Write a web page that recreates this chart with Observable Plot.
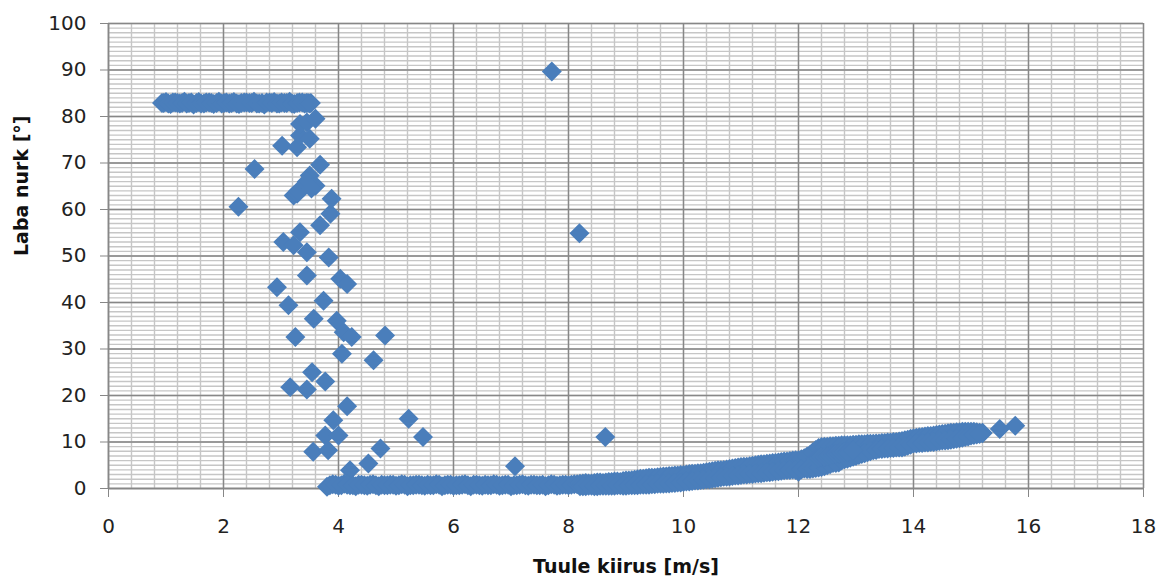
<!DOCTYPE html>
<html>
<head>
<meta charset="utf-8">
<script src="https://cdn.jsdelivr.net/npm/d3@7"></script>
<script src="https://cdn.jsdelivr.net/npm/@observablehq/plot@0.6"></script>
<style>
  html, body { margin: 0; padding: 0; background: #fff; }
</style>
</head>
<body>
<div id="chart"></div>
<script>
// ---- Data ----
const xTicks = [0, 2, 4, 6, 8, 10, 12, 14, 16, 18];
const yTicks = [0, 10, 20, 30, 40, 50, 60, 70, 80, 90, 100];
const xTitle = "Tuule kiirus [m/s]";
const yTitle = "Laba nurk [°]";

// band at ~83° (low wind)
const topBandX = [0.93,1.0,1.08,1.16,1.24,1.32,1.40,1.48,1.57,1.66,1.75,1.83,1.92,2.01,2.10,2.18,2.27,2.36,2.45,2.53,2.62,2.71,2.80,2.88,2.97,3.06,3.15,3.23,3.32,3.41,3.47,3.52];
const topBandY = [82.9,83.1,82.7,83.0,82.8,83.2,82.9,82.6,83.1,82.8,83.0,82.7,83.2,82.9,82.8,83.1,82.7,83.0,82.9,83.2,82.8,82.6,83.0,83.1,82.8,82.9,83.2,82.7,83.0,82.8,82.9,82.9];
const topBand2X = [0.96,1.04,1.12,1.20,1.28,1.36,1.44,1.53,1.61,1.70,1.79,1.88,1.97,2.05,2.14,2.23,2.31,2.40,2.49,2.58,2.67,2.75,2.84,2.93,3.01,3.10,3.19,3.28,3.37,3.44,3.50];
const topBand2Y = [82.9,82.8,83.0,82.9,82.9,82.8,83.0,82.9,82.8,83.0,82.9,82.9,82.8,83.0,82.9,82.8,82.9,83.0,82.9,82.8,82.9,83.0,82.9,82.8,83.0,82.9,82.8,82.9,83.0,82.9,82.8];

// scattered transition points
const scatterX = [2.26,2.54,2.93,3.02,3.04,3.13,3.16,3.22,3.22,3.25,3.28,3.28,3.33,3.33,3.33,3.39,3.45,3.45,3.45,3.45,3.50,3.50,3.54,3.56,3.57,3.60,3.60,3.68,3.68,3.74,3.77,3.77,3.82,3.83,3.86,3.88,3.91,3.97,4.00,4.03,4.06,4.09,4.15,4.15,4.20,4.23,4.52,4.61,4.73,4.81,5.22,5.47,7.07,7.71,8.19,8.64,15.50,15.77,3.45,3.30,3.53];
const scatterY = [60.6,68.7,43.3,73.7,53.0,39.4,21.8,63.0,52.3,32.6,73.4,63.4,75.9,78.4,55.1,64.8,78.7,50.8,45.8,21.3,75.2,67.3,25.0,7.9,36.5,79.5,65.1,69.6,56.6,40.4,23.0,11.4,8.2,49.7,59.1,62.3,14.7,36.1,11.4,45.1,29.0,33.6,44.0,17.7,3.9,32.6,5.4,27.6,8.6,32.9,15.0,11.1,4.8,89.7,54.9,11.1,12.8,13.5,66.0,64.0,64.5];

// flat band near 0°
const flatBandX = [3.80,3.90,4.00,4.10,4.20,4.30,4.40,4.50,4.60,4.70,4.80,4.90,5.00,5.10,5.20,5.30,5.40,5.50,5.60,5.70,5.80,5.90,6.00,6.10,6.20,6.30,6.40,6.50,6.60,6.70,6.80,6.90,7.00,7.10,7.20,7.30,7.40,7.50,7.60,7.70,7.80,7.90,8.00,8.10];
const flatBandY = [0.4,0.9,0.6,1.0,0.7,0.5,0.8,0.6,0.9,0.5,0.7,0.8,0.6,0.9,0.5,0.7,0.8,0.6,0.7,0.9,0.5,0.8,0.6,0.7,0.9,0.5,0.8,0.6,0.7,0.9,0.6,0.8,0.5,0.7,0.9,0.6,0.8,0.7,0.5,0.9,0.6,0.8,0.7,0.9];
const flatBand2X = [3.85,3.95,4.05,4.15,4.25,4.35,4.45,4.55,4.65,4.75,4.85,4.95,5.05,5.15,5.25,5.35,5.45,5.55,5.65,5.75,5.85,5.95,6.05,6.15,6.25,6.35,6.45,6.55,6.65,6.75,6.85,6.95,7.05,7.15,7.25,7.35,7.45,7.55,7.65,7.75,7.85,7.95,8.05,8.15];
const flatBand2Y = [0.7,0.8,0.7,0.8,0.7,0.8,0.7,0.8,0.7,0.8,0.7,0.8,0.7,0.8,0.7,0.8,0.7,0.8,0.7,0.8,0.7,0.8,0.7,0.8,0.7,0.8,0.7,0.8,0.7,0.8,0.7,0.8,0.7,0.8,0.7,0.8,0.7,0.8,0.7,0.8,0.7,0.8,0.8,0.9];

// rising band (upper and lower edge of the cloud)
const riseX = [8.2,8.3,8.4,8.5,8.6,8.7,8.8,8.9,9.0,9.1,9.2,9.3,9.4,9.5,9.6,9.7,9.8,9.9,10.0,10.1,10.2,10.3,10.4,10.5,10.6,10.7,10.8,10.9,11.0,11.1,11.2,11.3,11.4,11.5,11.6,11.7,11.8,11.9,12.0,12.1,12.2,12.3,12.4,12.5,12.6,12.7,12.8,12.9,13.0,13.1,13.2,13.3,13.4,13.5,13.6,13.7,13.8,13.9,14.0,14.1,14.2,14.3,14.4,14.5,14.6,14.7,14.8,14.9,15.0,15.1,15.2];
const riseUpper = [1.0,1.2,1.1,1.3,1.2,1.4,1.5,1.4,1.7,1.8,2.0,2.1,2.3,2.3,2.5,2.6,2.7,2.8,2.9,3.1,3.2,3.3,3.5,3.7,3.9,4.0,4.2,4.4,4.6,4.7,4.9,5.1,5.2,5.4,5.5,5.7,5.8,6.0,6.1,6.5,7.2,8.3,8.9,9.0,9.1,9.2,9.3,9.3,9.4,9.5,9.6,9.6,9.7,9.8,9.9,10.0,10.2,10.5,10.8,11.0,11.2,11.3,11.5,11.7,11.9,12.0,12.1,12.2,12.2,12.1,12.0];
const riseLower = [0.5,0.5,0.6,0.5,0.6,0.6,0.6,0.7,0.6,0.7,0.7,0.8,0.8,0.9,1.0,1.1,1.2,1.3,1.4,1.5,1.7,1.8,2.0,2.1,2.3,2.5,2.6,2.8,2.9,3.0,3.1,3.3,3.4,3.5,3.7,3.8,4.0,4.1,3.6,4.3,4.2,4.4,4.6,5.0,5.5,5.6,6.3,6.6,7.0,7.4,7.8,8.2,8.5,8.6,8.7,8.8,8.8,9.2,9.7,9.8,9.9,10.0,10.1,10.3,10.4,10.6,10.8,11.1,11.4,11.6,11.9];
const rise2X = [8.25,8.35,8.45,8.55,8.65,8.75,8.85,8.95,9.05,9.15,9.25,9.35,9.45,9.55,9.65,9.75,9.85,9.95,10.05,10.15,10.25,10.35,10.45,10.55,10.65,10.75,10.85,10.95,11.05,11.15,11.25,11.35,11.45,11.55,11.65,11.75,11.85,11.95,12.05,12.15,12.25,12.35,12.45,12.55,12.65,12.75,12.85,12.95,13.05,13.15,13.25,13.35,13.45,13.55,13.65,13.75,13.85,13.95,14.05,14.15,14.25,14.35,14.45,14.55,14.65,14.75,14.85,14.95,15.05,15.15];
const rise2Upper = [1.1,1.1,1.2,1.3,1.3,1.4,1.5,1.6,1.7,1.9,2.1,2.2,2.3,2.4,2.6,2.7,2.8,2.9,3.0,3.2,3.3,3.4,3.6,3.8,3.9,4.1,4.3,4.5,4.7,4.8,5.0,5.2,5.3,5.5,5.6,5.8,5.9,6.1,6.3,6.9,7.8,8.7,9.0,9.1,9.2,9.3,9.3,9.4,9.5,9.5,9.6,9.7,9.8,9.9,10.0,10.1,10.4,10.7,10.9,11.1,11.3,11.4,11.6,11.8,12.0,12.1,12.2,12.2,12.2,12.0];
const rise2Lower = [0.5,0.6,0.5,0.6,0.6,0.6,0.7,0.6,0.7,0.7,0.8,0.8,0.9,1.0,1.0,1.1,1.2,1.3,1.5,1.6,1.7,1.9,2.0,2.2,2.4,2.5,2.7,2.8,3.0,3.1,3.2,3.3,3.5,3.6,3.7,3.9,4.0,4.0,4.1,4.2,4.3,4.5,4.8,5.2,5.5,6.0,6.4,6.8,7.2,7.6,8.0,8.3,8.5,8.6,8.7,8.8,9.0,9.4,9.7,9.8,9.9,10.0,10.2,10.3,10.5,10.7,10.9,11.2,11.5,11.7];

// middle of the thick part
const midX = [12.3,12.35,12.4,12.45,12.5,12.55,12.6,12.65,12.7,12.75,12.8,12.85,12.9,12.95];
const midY = [6.4,6.5,6.7,6.8,7.0,7.1,7.3,7.4,7.5,7.7,7.8,7.9,8.0,8.1];

// ---- build point table ----
const pts = [];
const addPairs = (xs, ys) => xs.forEach((x, i) => pts.push({x, y: ys[i]}));
addPairs(topBandX, topBandY);
addPairs(topBand2X, topBand2Y);
addPairs(scatterX, scatterY);
addPairs(flatBandX, flatBandY);
addPairs(flatBand2X, flatBand2Y);
addPairs(riseX, riseUpper);
addPairs(riseX, riseLower);
addPairs(rise2X, rise2Upper);
addPairs(rise2X, rise2Lower);
addPairs(midX, midY);

const minorX = d3.range(0, 46).map(i => i * 0.4);
const minorY = d3.range(0, 101);

const major = "#878787";
const minor = "#c6c6c6";

const chart = Plot.plot({
  width: 1162,
  height: 578,
  marginTop: 23,
  marginBottom: 90,
  marginLeft: 108,
  marginRight: 19,
  x: {domain: [0, 18]},
  y: {domain: [0, 100]},
  style: {fontFamily: "DejaVu Sans", fontSize: "20px", color: "#222", background: "#fff"},
  marks: [
    Plot.gridX(minorX, {stroke: minor, strokeOpacity: 1, strokeWidth: 1.4}),
    Plot.gridY(minorY, {stroke: minor, strokeOpacity: 1, strokeWidth: 1.4}),
    Plot.gridX(xTicks, {stroke: major, strokeOpacity: 1, strokeWidth: 1.4}),
    Plot.gridY(yTicks, {stroke: major, strokeOpacity: 1, strokeWidth: 1.4}),
    Plot.axisX({ticks: xTicks, tickSize: 9, tickPadding: 21, stroke: major, label: null, fontSize: 20}),
    Plot.axisY({ticks: yTicks, tickSize: 8, tickPadding: 14, stroke: major, label: null, fontSize: 20}),
    Plot.ruleX([0], {stroke: major, strokeWidth: 1.5}),
    Plot.ruleY([0], {stroke: major, strokeWidth: 1.5}),
    Plot.dot(pts, {x: "x", y: "y", symbol: "diamond2", fill: "#4a7ebb", stroke: null, r: 9}),
    Plot.text([xTitle], {frameAnchor: "bottom", dy: 78, lineAnchor: "middle", text: d => d, fontWeight: "bold", fontSize: 19, fill: "#111"}),
    Plot.text([yTitle], {frameAnchor: "left", dx: -87, rotate: -90, lineAnchor: "middle", text: d => d, fontWeight: "bold", fontSize: 19, fill: "#111"})
  ]
});
document.getElementById("chart").appendChild(chart);
</script>
</body>
</html>
